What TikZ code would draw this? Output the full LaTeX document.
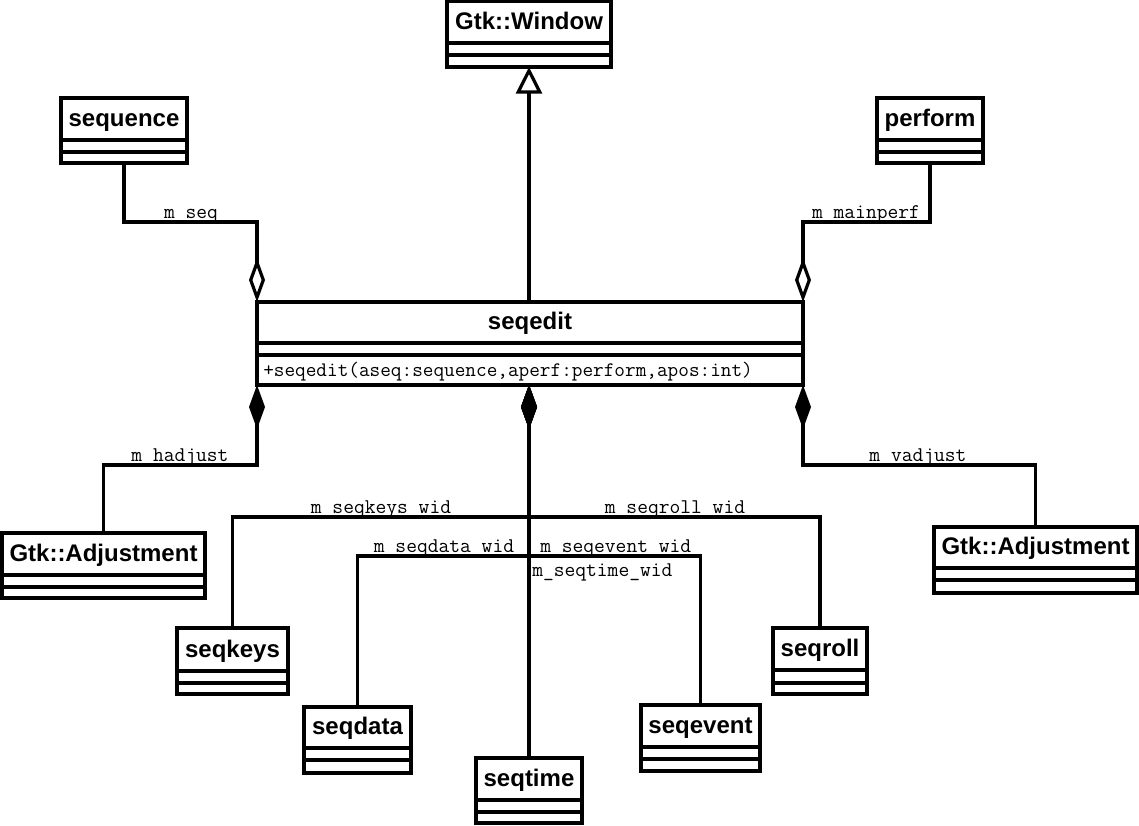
\documentclass[tikz,border=0pt]{standalone}
\usepackage{fontspec}
\setmainfont{Liberation Sans}
\usetikzlibrary{arrows.meta,fit}
\tikzset{
  lw/.style={line width=2.4pt},
  classbox/.style={draw, lw, inner sep=0pt, outer sep=0pt, fill=white},
  bigbox/.style={classbox, line width=3.4pt},
  title/.style={font=\fontsize{18}{20}\selectfont\bfseries, anchor=base, inner sep=0pt},
  op/.style={font=\ttfamily\fontsize{15.5}{17}\selectfont, anchor=base west, inner sep=0pt},
  role/.style={font=\ttfamily\fontsize{15.7}{17}\selectfont, anchor=base, inner sep=0pt},
  rolew/.style={role, anchor=base west},
  conn/.style={lw, line join=miter},
  agg/.style={conn, {Diamond[open, length=33pt, width=12pt]}-},
  comp/.style={conn, {Diamond[length=33pt, width=12pt]}-},
  gen/.style={conn, -{Triangle[open, length=20pt, width=19.5pt]}},
}
% [style]{name}{x1}{y1}{x2}{y2}{title bottom}{middle line}{title}
\newcommand\umlclass[9][classbox]{%
  \node[#1, fit={(#3,#4) (#5,#6)}] (#2) {};
  \draw[#1, fill=none] (#3,#7) -- (#5,#7);
  \draw[#1, fill=none] (#3,#8) -- (#5,#8);
  \node[title] (#2-t) at ({(#3+#5)/2},{#7-14}) {#9};
}
\begin{document}
\begin{tikzpicture}[x=0.75pt,y=-0.75pt]
\useasboundingbox (0,0) rectangle (1139,825);

% role labels
\node[role] (lseq) at (191,218) {m\_seq};
\node[role] (lperf) at (866,218) {m\_mainperf};
\node[role] (lhadj) at (180,461) {m\_hadjust};
\node[role] (lvadj) at (918,461) {m\_vadjust};
\node[role] (lkeys) at (381,513) {m\_seqkeys\_wid};
\node[role] (lroll) at (675,513) {m\_seqroll\_wid};
\node[role] (ldata) at (444,552) {m\_seqdata\_wid};
\node[rolew] (levent) at (540,552) {m\_seqevent\_wid};
\node[rolew] (ltime) at (532,576) {m\_seqtime\_wid};

% classes
\umlclass{window}{447}{1.5}{611}{67}{43}{55}{Gtk::Window}
\umlclass{sequence}{61}{98}{187}{163}{140}{152}{sequence}
\umlclass{perform}{877}{98}{983}{163}{140}{152}{perform}
\umlclass[bigbox]{seqedit}{257}{302}{803}{385}{343}{355}{seqedit}
\node[op] (seqedit-op) at (263,376) {+seqedit(aseq:sequence,aperf:perform,apos:int)};
\umlclass{hadj}{2}{533}{205}{598}{575}{587}{Gtk::Adjustment}
\umlclass{vadj}{934}{527}{1137}{593}{568}{580}{Gtk::Adjustment}
\umlclass{seqkeys}{177}{628}{288}{694}{671}{683}{seqkeys}
\umlclass{seqroll}{773}{628}{867}{694}{670}{683}{seqroll}
\umlclass{seqdata}{304}{707}{411}{773}{748}{760}{seqdata}
\umlclass{seqevent}{641}{705}{760}{771}{747}{759}{seqevent}
\umlclass{seqtime}{476}{758}{582}{823}{800}{812}{seqtime}

% generalization
\draw[gen] (window.south |- seqedit.north) -- (window.south);

% aggregations
\draw[agg] (seqedit.north west) -- ++(0,-80) -| (sequence.south);
\draw[agg] (seqedit.north east) -- ++(0,-80) -| (perform.south);

% compositions
\draw[comp] (seqedit.south west) -- ++(0,80) -| (hadj.north);
\draw[comp] (seqedit.south east) -- ++(0,80) -| (vadj.north);
\coordinate (hub) at (window.south |- seqedit.south);
\draw[comp] (hub) -- (seqtime.north);
\draw[comp] (hub) -- ++(0,132) -| (seqkeys.north);
\draw[comp] (hub) -- ++(0,132) -| (seqroll.north);
\draw[comp] (hub) -- ++(0,171) -| (seqdata.north);
\draw[comp] (hub) -- ++(0,171) -| (seqevent.north);
\end{tikzpicture}
\end{document}
